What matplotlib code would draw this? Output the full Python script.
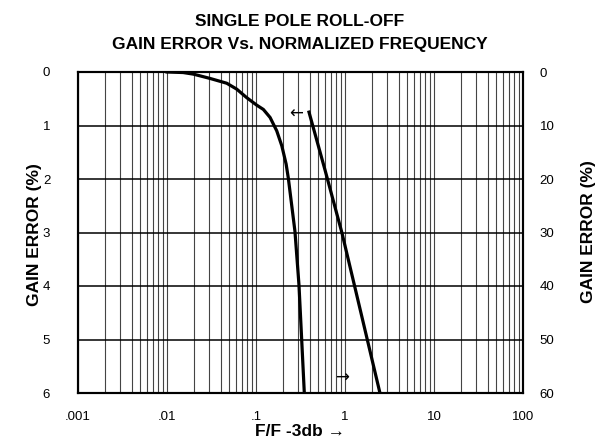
import matplotlib
matplotlib.use("Agg")
import matplotlib.pyplot as plt

plt.rcParams['font.family'] = ['Liberation Sans', 'DejaVu Sans']

# gain error, left scale 0-6 %
fine_f = [0.01, 0.0152, 0.0198, 0.0304, 0.0469, 0.0607, 0.0787, 0.102, 0.121,
          0.144, 0.171, 0.195, 0.218, 0.231, 0.274, 0.304, 0.326, 0.349]
fine_err = [0.0, 0.01, 0.04, 0.12, 0.21, 0.32, 0.48, 0.62, 0.70,
            0.85, 1.10, 1.38, 1.72, 1.99, 2.98, 3.98, 5.0, 6.0]

# right scale 0-60 %
coarse_f = [0.394, 0.596, 0.925, 1.29, 2.47]
coarse_err = [7.5, 18.3, 30.1, 40.2, 60.0]

x_ticks = [0.001, 0.01, 0.1, 1, 10, 100]
x_labels = [".001", ".01", ".1", "1", "10", "100"]
left_ticks = [0, 1, 2, 3, 4, 5, 6]
right_ticks = [0, 10, 20, 30, 40, 50, 60]

fig = plt.figure(figsize=(5.97, 4.38), dpi=100)
ax = fig.add_axes([78/597, 1-393/438, 445/597, 321/438])

ax.set_xscale('log')
ax.set_xlim(0.001, 100)
ax.set_ylim(6, 0)

# log grid, every 1..9 of each decade
for dec in x_ticks[:-1]:
    for m in range(1, 10):
        ax.axvline(dec*m, color='#444444', lw=0.8, zorder=1)
for v in left_ticks:
    ax.axhline(v, color='black', lw=1.1, zorder=1)

ax.plot(fine_f, fine_err, color='black', lw=2.3, zorder=3,
        solid_joinstyle='round')

ax2 = ax.twinx()
ax2.set_ylim(60, 0)
ax2.plot(coarse_f, coarse_err, color='black', lw=2.3, zorder=3)

ax.set_xticks(x_ticks)
ax.set_xticklabels(x_labels)
ax.xaxis.set_minor_locator(matplotlib.ticker.NullLocator())
ax.set_yticks(left_ticks)
ax.set_yticklabels([str(v) for v in left_ticks])
ax2.set_yticks(right_ticks)
ax2.set_yticklabels([str(v) for v in right_ticks])

ax.tick_params(axis='x', length=0, pad=13, labelsize=9.5)
ax.tick_params(axis='y', length=0, pad=20, labelsize=9.5)
ax2.tick_params(axis='y', length=0, pad=12, labelsize=9.5)

for a in (ax, ax2):
    for s in a.spines.values():
        s.set_linewidth(1.5)

ax.text(0.28, 0.77, "\u2190", fontsize=12, ha='center', va='center',
        family=['DejaVu Sans'], zorder=4)
ax.text(0.93, 5.72, "\u2192", fontsize=12, ha='center', va='center',
        family=['DejaVu Sans'], zorder=4)

fig.text(300/597, 1-21/438, "SINGLE POLE ROLL-OFF", ha='center', va='center',
         fontsize=12.5, fontweight='bold')
fig.text(300/597, 1-45/438, "GAIN ERROR Vs. NORMALIZED FREQUENCY", ha='center',
         va='center', fontsize=12.5, fontweight='bold')
fig.text(35/597, 1-235/438, "GAIN ERROR (%)", rotation=90, ha='center', va='center',
         fontsize=12.5, fontweight='bold')
fig.text(588/597, 1-232/438, "GAIN ERROR (%)", rotation=90, ha='center', va='center',
         fontsize=12.5, fontweight='bold')
fig.text(300/597, 1-431/438, "F/F -3db \u2192", ha='center', va='center',
         fontsize=12.5, fontweight='bold')

fig.savefig("out.png", dpi=100)
